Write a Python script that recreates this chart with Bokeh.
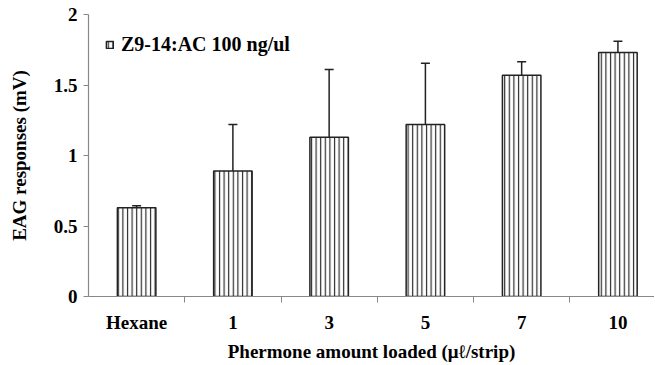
from bokeh.plotting import figure
from bokeh.models import (ColumnDataSource, Range1d, FixedTicker, NumeralTickFormatter,
                          Whisker, TeeHead, Legend, LegendItem)
from bokeh.embed import file_html
from bokeh.resources import INLINE

categories = ["Hexane", "1", "3", "5", "7", "10"]
values = [0.63, 0.89, 1.13, 1.22, 1.57, 1.73]
errors = [0.013, 0.33, 0.48, 0.435, 0.095, 0.08]
series_name = "Z9-14:AC 100 ng/ul"

x = [i + 0.5 for i in range(len(categories))]
upper = [v + e for v, e in zip(values, errors)]
src = ColumnDataSource(dict(x=x, top=values, upper=upper, cat=categories))

FONT = "Liberation Serif"

p = figure(width=654, height=364, output_backend="svg", toolbar_location=None,
           x_range=Range1d(0, 5.88), y_range=Range1d(0, 2),
           min_border_left=88, min_border_right=0, min_border_top=14, min_border_bottom=10)
p.outline_line_color = None
p.grid.grid_line_color = None
p.background_fill_color = "white"

r = p.vbar(x="x", top="top", width=0.4, source=src, fill_color="white",
           line_color="#222222", line_width=1.5,
           hatch_pattern="vertical_line", hatch_scale=4.6, hatch_weight=1.2,
           hatch_color="#2a2a2a")

wh = Whisker(base="x", upper="upper", lower="top", source=src,
             line_color="#222222", line_width=1.5,
             upper_head=TeeHead(size=9, line_color="#222222", line_width=1.5),
             lower_head=None)
p.add_layout(wh)

# x axis
xa = p.xaxis[0]
xa.ticker = FixedTicker(ticks=x, minor_ticks=[1, 2, 3, 4, 5])
xa.major_label_overrides = {xi: c for xi, c in zip(x, categories)}
xa.major_tick_line_color = None
xa.major_tick_out = 0
xa.minor_tick_out = 6
xa.minor_tick_in = 0
xa.minor_tick_line_color = "#888888"
xa.axis_line_color = "#888888"
xa.axis_line_width = 1.2
xa.major_label_standoff = 9
xa.axis_label = "Phermone amount loaded (μℓ/strip)"
xa.axis_label_standoff = 5

# y axis
ya = p.yaxis[0]
ya.ticker = FixedTicker(ticks=[0, 0.5, 1, 1.5, 2], minor_ticks=[])
ya.formatter = NumeralTickFormatter(format="0.[0]")
ya.major_tick_out = 5
ya.major_tick_in = 0
ya.major_tick_line_color = "#888888"
ya.axis_line_color = "#888888"
ya.axis_line_width = 1.2
ya.major_label_standoff = 6
ya.axis_label = "EAG responses (mV)"
ya.axis_label_standoff = 21

for ax in (xa, ya):
    ax.major_label_text_font = FONT
    ax.major_label_text_font_style = "bold"
    ax.major_label_text_font_size = "19px"
    ax.major_label_text_color = "black"
    ax.axis_label_text_font = FONT
    ax.axis_label_text_font_style = "bold"
    ax.axis_label_text_font_size = "19px"
    ax.axis_label_text_color = "black"

legend = Legend(items=[LegendItem(label=series_name, renderers=[r])],
                location="top_left", margin=17, padding=2,
                glyph_width=9, glyph_height=9, label_standoff=7, label_height=26,
                border_line_color=None, background_fill_alpha=0,
                label_text_font=FONT, label_text_font_style="bold",
                label_text_font_size="20px", label_text_color="black")
p.add_layout(legend)

open("out.html", "w").write(file_html(p, INLINE))
